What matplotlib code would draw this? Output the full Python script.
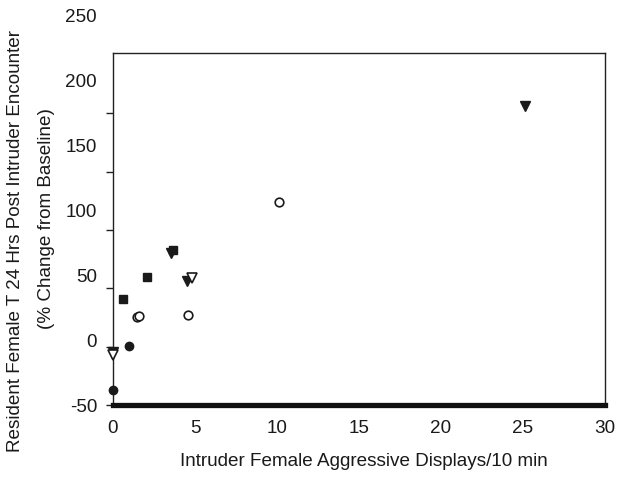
import matplotlib
matplotlib.use("Agg")
import matplotlib.pyplot as plt

plt.rcParams['font.family'] = ['Liberation Sans', 'DejaVu Sans']

# data (x = displays/10 min, y = % change)
sq_x = [0.62, 2.05, 3.67]
sq_y = [40.5, 59.3, 82.5]

tri_x = [0.0, 3.54, 4.53, 25.1]
tri_y = [-4.4, 80.4, 56.4, 206.0]

otri_x = [0.0, 4.8]
otri_y = [-7.2, 58.5]

dot_x = [0.0, 0.99]
dot_y = [-37.2, 0.5]

ring_x = [1.44, 1.59, 4.55, 10.14]
ring_y = [25.1, 26.2, 27.0, 124.0]

x_ticks = [0, 5, 10, 15, 20, 25, 30]
y_ticks = [-50, 0, 50, 100, 150, 200, 250]

fs = 13.6

fig = plt.figure(figsize=(6.32, 4.8), dpi=100)
ax = fig.add_axes([113/632, 75/480, 492/632, 352.3/480])

ax.plot(sq_x, sq_y, 's', color='#1a1a1a', ms=5.6, clip_on=False, zorder=3)
ax.plot(tri_x, tri_y, 'v', color='#1a1a1a', ms=6.5, clip_on=False, zorder=3)
ax.plot(otri_x, otri_y, 'v', mfc='white', mec='#1a1a1a', mew=1.2, ms=6.8, clip_on=False, zorder=4)
ax.plot(dot_x, dot_y, 'o', color='#1a1a1a', ms=6.0, clip_on=False, zorder=3)
ax.plot(ring_x, ring_y, 'o', mfc='white', mec='#1a1a1a', mew=1.2, ms=6.2, clip_on=False, zorder=4)

ax.set_xlim(0, 30)
ax.set_ylim(-50, 252)
ax.set_xticks(x_ticks)
ax.set_yticks(y_ticks[:-1])
ax.set_yticklabels([])
ax.tick_params(axis='y', direction='out', length=5, width=1.0, color='#222222')
ax.tick_params(axis='x', length=0, pad=11, labelsize=fs, labelcolor='#1a1a1a')

for s in ['left', 'top', 'right']:
    ax.spines[s].set_linewidth(1.0)
    ax.spines[s].set_color('#222222')
ax.spines['bottom'].set_linewidth(3.8)
ax.spines['bottom'].set_color('#111111')

ax.set_xlabel('Intruder Female Aggressive Displays/10 min', fontsize=fs, color='#1a1a1a')
ax.xaxis.set_label_coords(0.51, -0.135)

# the y tick labels in the original are spaced wider than the tick marks
lab = fig.add_axes([113/632, 75/480, 492/632, 389/480], frame_on=False)
lab.set_ylim(-50, 250)
lab.set_xticks([])
lab.set_yticks(y_ticks)
lab.set_yticklabels([str(v) for v in y_ticks])
lab.tick_params(axis='y', length=0, pad=11.5, labelsize=fs, labelcolor='#1a1a1a')
lab.patch.set_visible(False)

fig.text(16/632, 1 - 241/480, 'Resident Female T 24 Hrs Post Intruder Encounter',
         rotation=90, ha='center', va='center', fontsize=fs, color='#1a1a1a')
fig.text(47/632, 1 - 219/480, '(% Change from Baseline)',
         rotation=90, ha='center', va='center', fontsize=fs, color='#1a1a1a')

fig.savefig('out.png', dpi=100)
